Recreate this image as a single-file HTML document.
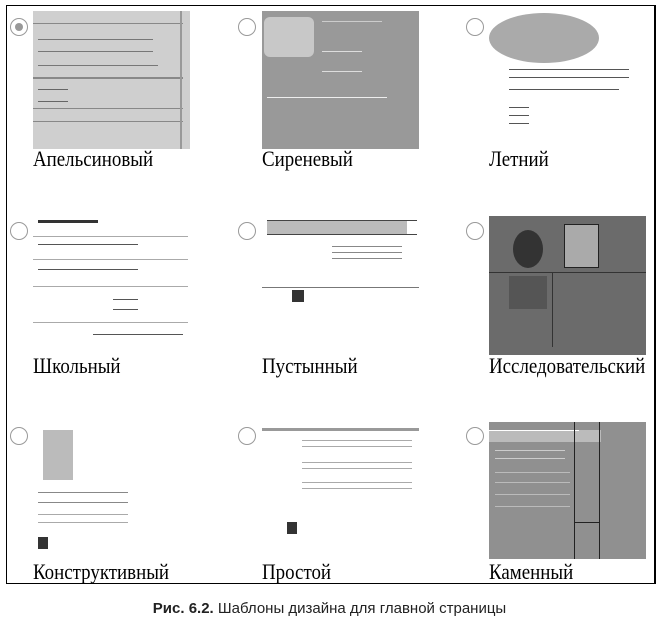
<!DOCTYPE html>
<html><head><meta charset="utf-8"><style>
body{margin:0;width:659px;height:628px;background:#fff;position:relative;overflow:hidden;font-family:"Liberation Serif",serif}
.box{position:absolute;left:6px;top:5px;width:647px;height:577px;border:1.5px solid #000;border-right:2px solid #000}
.t{position:absolute;width:157px;height:138px;overflow:hidden}
.r{position:absolute;width:16px;height:16px;border:1.5px solid #999;border-radius:50%;background:#fff}
.l{position:absolute;font-size:22px;color:#000;white-space:nowrap;transform:scaleX(0.86);transform-origin:0 0}
.ln{position:absolute;height:1px;background:#555}
.cap{position:absolute;top:600px;left:0;width:659px;text-align:center;font:15px "Liberation Sans",sans-serif;color:#222}
</style></head><body>
<div class="box"></div>

<div class="r" style="left:10px;top:18px"><div style="position:absolute;left:4px;top:4px;width:8px;height:8px;border-radius:50%;background:#999"></div></div>
<div class="t" style="left:33px;top:11px;height:138px;background:#cfcfcf">
 <div class="ln" style="left:0;top:12px;width:150px;background:#888"></div>
 <div class="ln" style="left:5px;top:28px;width:115px;background:#777"></div>
 <div class="ln" style="left:5px;top:40px;width:115px;background:#777"></div>
 <div class="ln" style="left:5px;top:54px;width:120px;background:#777"></div>
 <div class="ln" style="left:0;top:66px;width:150px;height:2px;background:#888"></div>
 <div class="ln" style="left:5px;top:78px;width:30px;background:#666"></div>
 <div class="ln" style="left:5px;top:90px;width:30px;background:#666"></div>
 <div class="ln" style="left:0;top:97px;width:150px;background:#888"></div>
 <div class="ln" style="left:0;top:110px;width:150px;background:#888"></div>
 <div style="position:absolute;left:147px;top:0;width:2px;height:138px;background:#999"></div>
</div>
<div class="l" style="left:33px;top:146px">Апельсиновый</div>

<div class="r" style="left:238px;top:18px"></div>
<div class="t" style="left:262px;top:11px;background:#999">
 <div style="position:absolute;left:2px;top:6px;width:50px;height:40px;background:#c8c8c8;border-radius:6px"></div>
 <div class="ln" style="left:60px;top:10px;width:60px;background:#ccc"></div>
 <div class="ln" style="left:60px;top:40px;width:40px;background:#ddd"></div>
 <div class="ln" style="left:60px;top:60px;width:40px;background:#ddd"></div>
 <div class="ln" style="left:5px;top:86px;width:120px;background:#eee"></div>
</div>
<div class="l" style="left:262px;top:146px">Сиреневый</div>

<div class="r" style="left:466px;top:18px"></div>
<div class="t" style="left:489px;top:11px;background:#fff">
 <div style="position:absolute;left:0;top:2px;width:110px;height:50px;background:#aaa;border-radius:50%"></div>
 <div class="ln" style="left:20px;top:58px;width:120px"></div>
 <div class="ln" style="left:20px;top:66px;width:120px"></div>
 <div class="ln" style="left:20px;top:78px;width:110px"></div>
 <div class="ln" style="left:20px;top:96px;width:20px"></div>
 <div class="ln" style="left:20px;top:104px;width:20px"></div>
 <div class="ln" style="left:20px;top:112px;width:20px"></div>
</div>
<div class="l" style="left:489px;top:146px">Летний</div>

<div class="r" style="left:10px;top:222px"></div>
<div class="t" style="left:33px;top:214px;background:#fff">
 <div class="ln" style="left:5px;top:6px;width:60px;height:3px;background:#333"></div>
 <div class="ln" style="left:0;top:22px;width:155px;background:#aaa"></div>
 <div class="ln" style="left:5px;top:30px;width:100px"></div>
 <div class="ln" style="left:0;top:45px;width:155px;background:#aaa"></div>
 <div class="ln" style="left:5px;top:55px;width:100px"></div>
 <div class="ln" style="left:0;top:72px;width:155px;background:#aaa"></div>
 <div class="ln" style="left:80px;top:85px;width:25px"></div>
 <div class="ln" style="left:80px;top:95px;width:25px"></div>
 <div class="ln" style="left:0;top:108px;width:155px;background:#aaa"></div>
 <div class="ln" style="left:60px;top:120px;width:90px"></div>
</div>
<div class="l" style="left:33px;top:353px">Школьный</div>

<div class="r" style="left:238px;top:222px"></div>
<div class="t" style="left:262px;top:214px;background:#fff">
 <div style="position:absolute;left:5px;top:6px;width:140px;height:14px;background:#bbb"></div>
 <div class="ln" style="left:5px;top:6px;width:150px;background:#444"></div>
 <div class="ln" style="left:5px;top:20px;width:150px;background:#444"></div>
 <div class="ln" style="left:70px;top:32px;width:70px;background:#888"></div>
 <div class="ln" style="left:70px;top:38px;width:70px;background:#888"></div>
 <div class="ln" style="left:70px;top:44px;width:70px;background:#888"></div>
 <div class="ln" style="left:0;top:73px;width:157px;background:#777"></div>
 <div style="position:absolute;left:30px;top:76px;width:12px;height:12px;background:#333"></div>
</div>
<div class="l" style="left:262px;top:353px">Пустынный</div>

<div class="r" style="left:466px;top:222px"></div>
<div class="t" style="left:489px;top:216px;height:139px;background:#6b6b6b">
 <div style="position:absolute;left:24px;top:14px;width:30px;height:38px;background:#333;border-radius:50%"></div>
 <div style="position:absolute;left:75px;top:8px;width:33px;height:42px;background:#aaa;border:1px solid #222"></div>
 <div class="ln" style="left:0;top:56px;width:157px;background:#333"></div>
 <div style="position:absolute;left:63px;top:56px;width:1px;height:75px;background:#333"></div>
 <div style="position:absolute;left:20px;top:60px;width:38px;height:33px;background:#555"></div>
</div>
<div class="l" style="left:489px;top:353px">Исследовательский</div>

<div class="r" style="left:10px;top:427px"></div>
<div class="t" style="left:33px;top:422px;background:#fff">
 <div style="position:absolute;left:10px;top:8px;width:30px;height:50px;background:#bbb"></div>
 <div class="ln" style="left:5px;top:70px;width:90px;background:#888"></div>
 <div class="ln" style="left:5px;top:80px;width:90px;background:#888"></div>
 <div class="ln" style="left:5px;top:92px;width:90px;background:#aaa"></div>
 <div class="ln" style="left:5px;top:100px;width:90px;background:#aaa"></div>
 <div style="position:absolute;left:5px;top:115px;width:10px;height:12px;background:#333"></div>
</div>
<div class="l" style="left:33px;top:559px">Конструктивный</div>

<div class="r" style="left:238px;top:427px"></div>
<div class="t" style="left:262px;top:422px;background:#fff">
 <div class="ln" style="left:0;top:6px;width:157px;height:3px;background:#999"></div>
 <div class="ln" style="left:40px;top:18px;width:110px;background:#aaa"></div>
 <div class="ln" style="left:40px;top:24px;width:110px;background:#aaa"></div>
 <div class="ln" style="left:40px;top:40px;width:110px;background:#aaa"></div>
 <div class="ln" style="left:40px;top:46px;width:110px;background:#aaa"></div>
 <div class="ln" style="left:40px;top:60px;width:110px;background:#aaa"></div>
 <div class="ln" style="left:40px;top:66px;width:110px;background:#aaa"></div>
 <div style="position:absolute;left:25px;top:100px;width:10px;height:12px;background:#333"></div>
</div>
<div class="l" style="left:262px;top:559px">Простой</div>

<div class="r" style="left:466px;top:427px"></div>
<div class="t" style="left:489px;top:422px;height:137px;background:#909090">
 <div style="position:absolute;left:0;top:8px;width:112px;height:12px;background:#bbb"></div>
 <div class="ln" style="left:0;top:8px;width:90px;background:#fff"></div>
 <div style="position:absolute;left:85px;top:0;width:1px;height:137px;background:#222"></div>
 <div style="position:absolute;left:110px;top:0;width:1px;height:137px;background:#222"></div>
 <div class="ln" style="left:85px;top:100px;width:26px;background:#222"></div>
 <div class="ln" style="left:6px;top:28px;width:70px;background:#ccc"></div>
 <div class="ln" style="left:6px;top:36px;width:70px;background:#ccc"></div>
 <div class="ln" style="left:6px;top:50px;width:75px;background:#bbb"></div>
 <div class="ln" style="left:6px;top:60px;width:75px;background:#bbb"></div>
 <div class="ln" style="left:6px;top:72px;width:75px;background:#bbb"></div>
 <div class="ln" style="left:6px;top:84px;width:75px;background:#bbb"></div>
</div>
<div class="l" style="left:489px;top:559px">Каменный</div>

<div class="cap"><b>Рис. 6.2.</b> Шаблоны дизайна для главной страницы</div>
</body></html>
